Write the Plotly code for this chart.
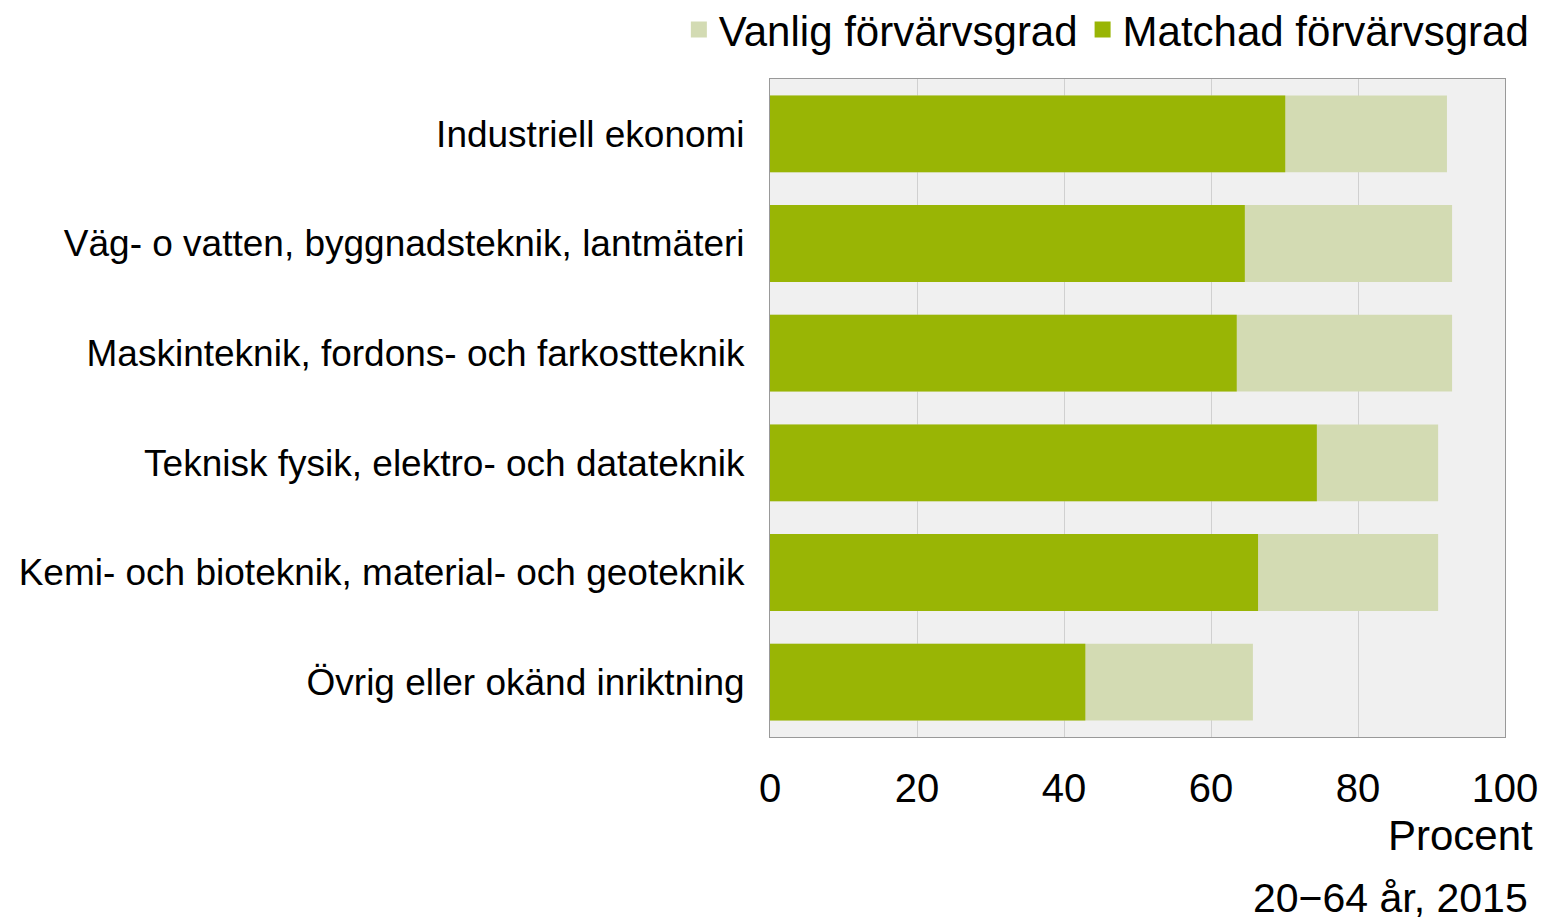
import plotly.graph_objects as go

categories = [
    "Industriell ekonomi",
    "Väg- o vatten, byggnadsteknik, lantmäteri",
    "Maskinteknik, fordons- och farkostteknik",
    "Teknisk fysik, elektro- och datateknik",
    "Kemi- och bioteknik, material- och geoteknik",
    "Övrig eller okänd inriktning",
]
vanlig = [92.1, 92.8, 92.8, 90.9, 90.9, 65.7]
matchad = [70.1, 64.6, 63.5, 74.4, 66.4, 42.9]
x_ticks = [0, 20, 40, 60, 80, 100]

FONT = "Liberation Sans, Arial, sans-serif"
LIGHT = "#d3dbb3"
DARK = "#99b505"

fig = go.Figure()
fig.add_trace(go.Bar(
    y=categories, x=vanlig, orientation="h",
    name="Vanlig förvärvsgrad", showlegend=False,
    marker=dict(color=LIGHT, line=dict(width=0)),
))
fig.add_trace(go.Bar(
    y=categories, x=matchad, orientation="h",
    name="Matchad förvärvsgrad", showlegend=False,
    marker=dict(color=DARK, line=dict(width=0)),
))

# legend-only entries with bigger square swatches
for name, col in [("Vanlig förvärvsgrad", LIGHT), ("Matchad förvärvsgrad", DARK)]:
    fig.add_trace(go.Scatter(
        x=[None], y=[None], mode="markers", name=name,
        marker=dict(symbol="square", size=16, color=col),
    ))

# page body has an 8px margin, so the figure is 8px smaller
fig.update_layout(
    width=1554, height=913,
    barmode="overlay", bargap=0.3,
    plot_bgcolor="#f0f0f0", paper_bgcolor="white",
    margin=dict(l=762, r=57, t=71, b=184, autoexpand=False),
    font=dict(family=FONT, color="black"),
    showlegend=True,
    legend=dict(
        orientation="h",
        x=-0.124, xanchor="left", y=1.075, yanchor="middle",
        font=dict(size=42), itemwidth=30, tracegroupgap=0,
        bgcolor="rgba(0,0,0,0)",
    ),
    xaxis=dict(
        range=[0, 100], tickvals=x_ticks, ticks="",
        tickfont=dict(size=40), showgrid=True, gridcolor="#d0d0d0", gridwidth=1,
        showline=True, linecolor="#999999", mirror=True, zeroline=False,
        ticklabelstandoff=16, automargin=False,
    ),
    yaxis=dict(
        autorange="reversed", ticks="", tickfont=dict(size=37),
        showline=True, linecolor="#999999", mirror=True,
        ticklabelstandoff=17, automargin=False,
    ),
    annotations=[
        dict(text="Procent", xref="paper", yref="paper", x=1.041, y=-0.149,
             xanchor="right", yanchor="middle", showarrow=False,
             font=dict(size=42)),
        dict(text="20−64 år, 2015", xref="paper", yref="paper", x=1.034, y=-0.245,
             xanchor="right", yanchor="middle", showarrow=False,
             font=dict(size=41)),
    ],
)

fig.write_html("out.html")
